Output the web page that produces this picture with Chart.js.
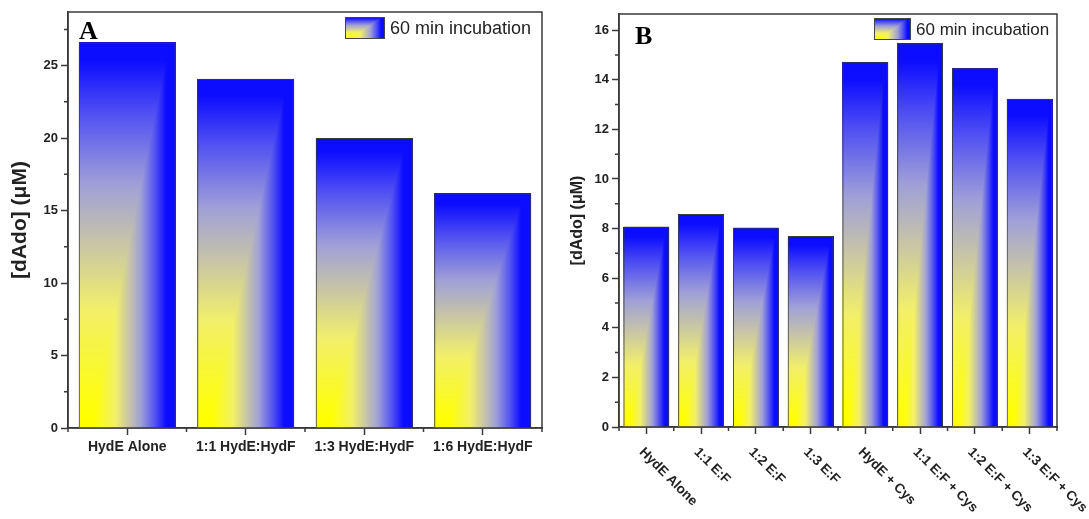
<!DOCTYPE html>
<html lang="en">
<head>
<meta charset="UTF-8">
<title>[dAdo] formation, 60 min incubation</title>
<script src="https://cdn.jsdelivr.net/npm/chart.js"></script>
<style>
  body { margin: 0; background: #fff; }
  .wrap { position: relative; width: 1089px; height: 519px; overflow: hidden; }
  #panelA { position: absolute; left: 0; top: 0; }
  #panelB { position: absolute; left: 545px; top: 0; }
</style>
</head>
<body>
<div class="wrap">
  <canvas id="panelA" width="545" height="519"></canvas>
  <canvas id="panelB" width="544" height="519"></canvas>
</div>
<script>
const seriesName = '60 min incubation';
const yTitle = '[dAdo] (\u03bcM)';

const labelsA = ['HydE Alone', '1:1 HydE:HydF', '1:3 HydE:HydF', '1:6 HydE:HydF'];
const valuesA = [26.6, 24.1, 20.0, 16.2];

const labelsB = ['HydE Alone', '1:1 E:F', '1:2 E:F', '1:3 E:F', 'HydE + Cys', '1:1 E:F + Cys', '1:2 E:F + Cys', '1:3 E:F + Cys'];
const valuesB = [8.08, 8.59, 8.04, 7.70, 14.73, 15.47, 14.46, 13.23];

const sans = 'Arial, "Liberation Sans", sans-serif';
const axisColor = '#3a3a3a';

// yellow -> grey -> lavender -> blue, like the Origin fill
const palette = [
  [0, 255, 255, 0],
  [0.3, 242, 240, 105],
  [0.5, 196, 194, 170],
  [0.65, 160, 160, 215],
  [0.85, 80, 80, 242],
  [1, 12, 12, 255]
];

function colorAt(t) {
  for (let i = 1; i < palette.length; i++) {
    if (t <= palette[i][0]) {
      const a = palette[i - 1], b = palette[i];
      const f = (t - a[0]) / (b[0] - a[0]);
      return [a[1] + (b[1] - a[1]) * f, a[2] + (b[2] - a[2]) * f, a[3] + (b[3] - a[3]) * f];
    }
  }
  return palette[palette.length - 1].slice(1);
}

const clamp = v => Math.max(0, Math.min(1, v));

function gradientTile(w, h) {
  const c = document.createElement('canvas');
  c.width = Math.max(1, w); c.height = Math.max(1, h);
  const g = c.getContext('2d');
  const img = g.createImageData(c.width, c.height);
  for (let j = 0; j < c.height; j++) {
    const v = (j + 0.5) / c.height;
    const hy = clamp(1.08 * (1 - v) - 0.03);
    for (let i = 0; i < c.width; i++) {
      const u = (i + 0.5) / c.width;
      const hx = clamp((u - 0.15) / 0.75);
      const col = colorAt(Math.max(hx, hy));
      const k = (j * c.width + i) * 4;
      img.data[k] = col[0]; img.data[k + 1] = col[1]; img.data[k + 2] = col[2]; img.data[k + 3] = 255;
    }
  }
  g.putImageData(img, 0, 0);
  return c;
}

const panelDecor = {
  id: 'panelDecor',
  beforeDatasetsDraw(chart) {
    const ctx = chart.ctx;
    chart.getDatasetMeta(0).data.forEach(bar => {
      const p = bar.getProps(['x', 'y', 'base', 'width'], true);
      const x0 = Math.round(p.x - p.width / 2), x1 = Math.round(p.x + p.width / 2);
      const y0 = Math.round(p.y), y1 = Math.round(p.base);
      ctx.drawImage(gradientTile(x1 - x0, y1 - y0), x0, y0);
    });
  },
  afterDraw(chart, args, o) {
    const {ctx, chartArea: a, scales: {x, y}} = chart;
    ctx.save();
    ctx.strokeStyle = axisColor;
    ctx.lineWidth = 1.5;
    ctx.strokeRect(a.left, a.top, a.right - a.left, a.bottom - a.top);

    // minor ticks
    ctx.beginPath();
    for (let v = o.minor; v < y.max; v += o.minor) {
      const r = v / o.major;
      if (Math.abs(r - Math.round(r)) < 1e-6) continue;
      const py = y.getPixelForValue(v);
      ctx.moveTo(a.left - 4, py); ctx.lineTo(a.left, py);
    }
    const n = chart.data.labels.length;
    for (let i = 0; i <= n; i++) {
      const px = x.getPixelForValue(i - 0.5);
      ctx.moveTo(px, a.bottom); ctx.lineTo(px, a.bottom + 4);
    }
    ctx.stroke();

    // panel letter
    ctx.fillStyle = '#000';
    ctx.font = 'bold 26px "Liberation Serif", "Times New Roman", serif';
    ctx.textAlign = 'left';
    ctx.textBaseline = 'alphabetic';
    ctx.fillText(o.letter, a.left + o.letterDx, a.top + o.letterDy);

    // legend
    const lx = a.right - o.legendDx, ly = a.top + o.legendDy;
    ctx.drawImage(gradientTile(o.swatchW, o.swatchH), lx, ly);
    ctx.lineWidth = 1;
    ctx.strokeStyle = '#444';
    ctx.strokeRect(lx + 0.5, ly + 0.5, o.swatchW - 1, o.swatchH - 1);
    ctx.fillStyle = '#222';
    ctx.font = o.legendSize + 'px ' + sans;
    ctx.textBaseline = 'middle';
    ctx.fillText(chart.data.datasets[0].label, lx + o.swatchW + 5, ly + o.swatchH / 2 + 1);

    // slanted category labels
    if (o.rotated) {
      ctx.font = 'bold 13.5px ' + sans;
      ctx.fillStyle = '#222';
      chart.data.labels.forEach((lab, i) => {
        const px = x.getPixelForValue(i);
        ctx.save();
        ctx.translate(px - 5, a.bottom + 23);
        ctx.rotate(Math.PI / 4);
        ctx.textAlign = 'left';
        ctx.textBaseline = 'middle';
        ctx.fillText(lab, 0, 0);
        ctx.restore();
      });
    }
    ctx.restore();
  }
};

function makePanel(id, labels, values, cfg) {
  return new Chart(document.getElementById(id), {
    type: 'bar',
    data: {
      labels: labels,
      datasets: [{
        label: seriesName,
        data: values,
        backgroundColor: 'rgba(0,0,0,0)',
        borderColor: '#3c3c3c',
        borderWidth: 1,
        barPercentage: cfg.barPct,
        categoryPercentage: 1
      }]
    },
    options: {
      responsive: false,
      animation: false,
      layout: { padding: cfg.padding },
      plugins: {
        legend: { display: false },
        tooltip: { enabled: false },
        panelDecor: cfg.decor
      },
      scales: {
        x: {
          offset: true,
          grid: { display: true, offset: false, drawOnChartArea: false, drawTicks: true, tickLength: 7, tickWidth: 1.5, tickColor: axisColor },
          border: { color: axisColor, width: 1.5 },
          ticks: { display: !cfg.decor.rotated, color: '#222', font: { family: sans, weight: 'bold', size: 14 }, padding: 4, maxRotation: 0, minRotation: 0, autoSkip: false },
          afterFit: s => { s.height = cfg.xHeight; }
        },
        y: {
          min: 0,
          max: cfg.yMax,
          grid: { display: true, drawOnChartArea: false, drawTicks: true, tickLength: 7, tickWidth: 1.5, tickColor: axisColor },
          border: { color: axisColor, width: 1.5 },
          ticks: { stepSize: cfg.decor.major, includeBounds: false, padding: 3, color: '#222', font: { family: sans, weight: 'bold', size: 13 } },
          title: { display: true, text: yTitle, color: '#222', font: { family: sans, weight: 'bold', size: cfg.titleSize }, padding: { top: cfg.titlePad, bottom: 0 } },
          afterFit: s => { s.width = cfg.yWidth; }
        }
      }
    },
    plugins: [panelDecor]
  });
}

makePanel('panelA', labelsA, valuesA, {
  barPct: 0.82, yMax: 28.7, yWidth: 68, xHeight: 91, titleSize: 21, titlePad: 8,
  padding: { top: 12, right: 3, left: 0, bottom: 0 },
  decor: { minor: 2.5, major: 5, letter: 'A', letterDx: 11, letterDy: 27, legendDx: 197, legendDy: 5, swatchW: 40, swatchH: 22, legendSize: 18, rotated: false }
});

makePanel('panelB', labelsB, valuesB, {
  barPct: 0.84, yMax: 16.65, yWidth: 74, xHeight: 92, titleSize: 16, titlePad: 23,
  padding: { top: 14, right: 32, left: 0, bottom: 0 },
  decor: { minor: 1, major: 2, letter: 'B', letterDx: 16, letterDy: 30, legendDx: 183, legendDy: 4, swatchW: 37, swatchH: 22, legendSize: 17, rotated: true }
});
</script>
</body>
</html>
